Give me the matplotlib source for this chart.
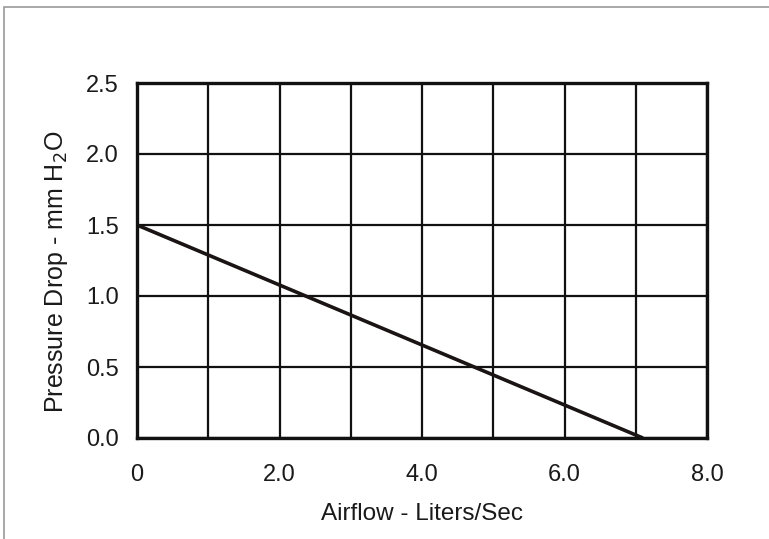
import numpy as np
import matplotlib
matplotlib.use("Agg")
from matplotlib import pyplot as plt
from matplotlib.patches import Rectangle

plt.rcParams['font.family'] = ['Liberation Sans', 'DejaVu Sans']

# データ
airflow = [0.0, 7.1]
pressure_drop = [1.5, 0.0]

x_ticks = [0, 2, 4, 6, 8]
x_tick_labels = ["0", "2.0", "4.0", "6.0", "8.0"]
y_ticks = [0.0, 0.5, 1.0, 1.5, 2.0, 2.5]
y_tick_labels = ["0.0", "0.5", "1.0", "1.5", "2.0", "2.5"]

fig = plt.figure(figsize=(7.69, 5.39), dpi=100)
ax = fig.add_axes([137 / 769, 1 - 438 / 539, 570 / 769, 355 / 539])

# 外枠
fig.patches.append(Rectangle((4 / 769, -0.1), 1.2, 1 - 7 / 539 + 0.1,
                             transform=fig.transFigure, fill=False,
                             edgecolor="#9a9a9a", linewidth=1.2))

ax.plot(airflow, pressure_drop, color="#1a1414", linewidth=2.6,
        solid_capstyle="butt", zorder=3)

ax.set_xlim(0, 8)
ax.set_ylim(0, 2.5)
ax.set_xticks(x_ticks)
ax.set_xticklabels(x_tick_labels)
ax.set_xticks(np.arange(1, 8, 2), minor=True)
ax.set_yticks(y_ticks)
ax.set_yticklabels(y_tick_labels)

ax.grid(True, which="both", color="#111111", linewidth=1.6)
ax.tick_params(which="both", length=0, labelsize=17, colors="#1a1a1a")
ax.tick_params(axis="x", pad=19)
ax.tick_params(axis="y", pad=13)

for s in ax.spines.values():
    s.set_linewidth(2.4)
    s.set_color("#111111")
    s.set_zorder(4)

ax.set_xlabel("Airflow - Liters/Sec", fontsize=17.5, color="#1a1a1a", labelpad=12)
ax.set_ylabel("Pressure Drop - mm H$_2$O", fontsize=18, color="#1a1a1a")
ax.yaxis.set_label_coords(-0.118, 0.468)

fig.savefig("out.png", dpi=100)
